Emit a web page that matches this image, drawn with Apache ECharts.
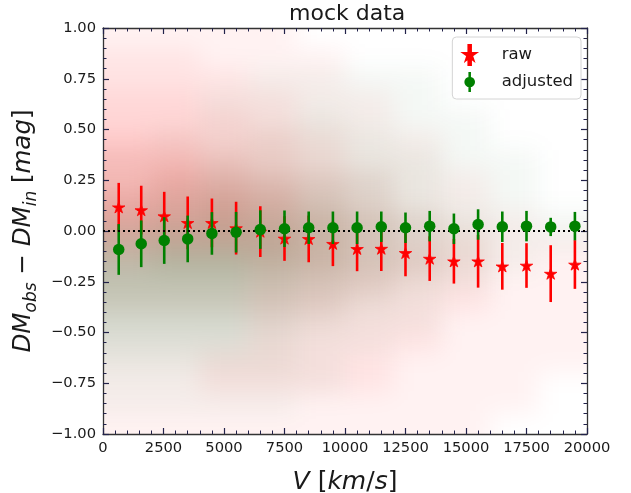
<!DOCTYPE html>
<html>
<head>
<meta charset="utf-8">
<script src="https://cdn.jsdelivr.net/npm/echarts@6/dist/echarts.min.js"></script>
<style>
html,body{margin:0;padding:0;background:#fff;}
#wrap{position:relative;width:631px;height:493px;overflow:hidden;}
#cloudClip{position:absolute;left:103px;top:28px;width:484px;height:406px;overflow:hidden;}
#cloud{position:absolute;left:-103px;top:-28px;width:631px;height:493px;filter:blur(12px);}
#main{position:absolute;left:0;top:0;width:631px;height:493px;}
</style>
</head>
<body>
<div id="wrap">
  <div id="cloudClip"><div id="cloud"></div></div>
  <div id="main"></div>
</div>
<script>
// ---- binned statistics ----
const velocity = [650,1580,2530,3500,4500,5500,6500,7500,8500,9500,10500,11500,12500,13500,14500,15500,16500,17500,18500,19500];
const rawMean  = [0.117,0.103,0.073,0.040,0.040,0.014,-0.003,-0.037,-0.039,-0.063,-0.088,-0.087,-0.108,-0.136,-0.149,-0.149,-0.174,-0.170,-0.210,-0.165];
const rawErr   = [0.12,0.12,0.12,0.13,0.12,0.13,0.125,0.11,0.115,0.11,0.11,0.11,0.115,0.11,0.11,0.13,0.115,0.11,0.14,0.12];
const adjMean  = [-0.091,-0.063,-0.047,-0.039,-0.012,-0.006,0.007,0.011,0.016,0.016,0.016,0.021,0.016,0.024,0.011,0.032,0.021,0.024,0.020,0.024];
const adjErr   = [0.125,0.115,0.115,0.115,0.105,0.10,0.095,0.09,0.08,0.08,0.08,0.075,0.075,0.075,0.075,0.075,0.075,0.075,0.045,0.07];

// ---- background point-cloud density (0-9), read by eye; rows top->bottom ----
const cloudX = [1000,3000,5000,7000,9000,11000,13000,15000,17000,19000];
const cloudY = [0.95,0.85,0.75,0.65,0.55,0.45,0.35,0.25,0.15,0.05,-0.05,-0.15,-0.25,-0.35,-0.45,-0.55,-0.65,-0.75,-0.85,-0.95];
const rawDensity = [
 "1111000000","2211100000","2221100000","3322110000","3332110000",
 "4433211000","5543211000","5654321100","6665321100","6665432110",
 "5555432211","3334433211","2223332211","2223322211","1112222111",
 "1112222111","1122221111","1122221110","1111111110","1111111100"];
const adjDensity = [
 "0000000000","0000000000","0001111000","0011111000","0011211100",
 "0112221100","1122222110","1233332110","2344432110","3455543211",
 "5666543211","6776543210","6665432100","5554321000","4443211000",
 "3332110000","2222100000","1111100000","1111000000","0000000000"];

const xTicks = {min:0, max:20000, interval:2500};
const yTicks = {min:-1, max:1, interval:0.25};

function cloudData(grid){
  const out=[];
  grid.forEach((row,i)=>{ for(let j=0;j<row.length;j++){ const d=+row[j]; if(d>0) out.push([cloudX[j],cloudY[i],d,i,j]); } });
  return out;
}
function cloudRender(rgb, k){
  return function(params, api){
    const x=api.value(0), y=api.value(1), d=api.value(2), i=api.value(3), j=api.value(4);
    const p=api.coord([x,y]); const s=api.size([2000,0.1]);
    let x0=p[0]-s[0]/2, x1=p[0]+s[0]/2, y0=p[1]-s[1]/2, y1=p[1]+s[1]/2;
    if(j===0) x0-=30; if(j===cloudX.length-1) x1+=30;
    if(i===0) y0-=30; if(i===cloudY.length-1) y1+=30;
    return {type:'rect', shape:{x:x0,y:y0,width:x1-x0,height:y1-y0},
      style:{fill:'rgba('+rgb+','+(d*k).toFixed(3)+')'}};
  };
}
const gridPos = {left:103, right:44, top:28, bottom:59, outerBoundsMode:'none', containLabel:false};

const cloud = echarts.init(document.getElementById('cloud'), null, {renderer:'canvas'});
cloud.setOption({
  animation:false,
  grid: gridPos,
  xAxis:{type:'value', min:xTicks.min, max:xTicks.max, show:false},
  yAxis:{type:'value', min:yTicks.min, max:yTicks.max, show:false},
  series:[
    {type:'custom', data:cloudData(rawDensity), renderItem:cloudRender('255,0,0',0.052), clip:false},
    {type:'custom', data:cloudData(adjDensity), renderItem:cloudRender('30,105,45',0.048), clip:false}
  ]
});

const FONT='DejaVu Sans';
const tickCol='#22224a';
function axisCommon(showLabel){
  return {
    axisLine:{show:true, onZero:false, lineStyle:{color:'#333', width:1.3}},
    axisTick:{show:true, inside:true, length:6, lineStyle:{color:tickCol, width:1.2}},
    minorTick:{show:true, splitNumber:5, length:3.5, lineStyle:{color:tickCol, width:1}},
    splitLine:{show:false}, minorSplitLine:{show:false},
    axisLabel:{show:showLabel, fontFamily:FONT, fontSize:14.7, color:'#1a1a1a', margin:7}
  };
}
const starPath = 'M0,-100 L22.45,-30.9 L95.1,-30.9 L36.3,11.8 L58.8,80.9 L0,38.2 L-58.8,80.9 L-36.3,11.8 L-95.1,-30.9 L-22.45,-30.9 Z';
const rawIcon = 'path://' + starPath + ' M-19,-150 L19,-150 L19,150 L-19,150 Z';
const adjIcon = 'path://M-80,0 A80,80 0 1,1 80,0 A80,80 0 1,1 -80,0 Z M-19,-150 L19,-150 L19,150 L-19,150 Z';

function errRender(color){
  return function(params, api){
    const x=api.value(0), m=api.value(1), e=api.value(2);
    const a=api.coord([x,m-e]), b=api.coord([x,m+e]);
    return {type:'line', shape:{x1:a[0],y1:a[1],x2:b[0],y2:b[1]}, style:{stroke:color, lineWidth:2.6}};
  };
}
const rawData = velocity.map((v,i)=>[v,rawMean[i],rawErr[i]]);
const adjData = velocity.map((v,i)=>[v,adjMean[i],adjErr[i]]);

const chart = echarts.init(document.getElementById('main'), null, {renderer:'canvas'});
chart.setOption({
  animation:false,
  backgroundColor:'transparent',
  title:{text:'mock data', left:284, top:-2, textStyle:{fontFamily:FONT, fontSize:22, fontWeight:'normal', color:'#1a1a1a'}},
  grid: gridPos,
  legend:{
    orient:'vertical', right:50, top:37,
    padding:[7,8,7,10], itemGap:6, itemWidth:26, itemHeight:20,
    backgroundColor:'rgba(255,255,255,0.85)', borderColor:'#d4d4d4', borderWidth:1, borderRadius:4,
    textStyle:{fontFamily:FONT, fontSize:16.5, color:'#1a1a1a', padding:[0,0,0,14]},
    data:[{name:'raw', icon:rawIcon},{name:'adjusted', icon:adjIcon}]
  },
  xAxis:[
    Object.assign({type:'value', position:'bottom', min:xTicks.min, max:xTicks.max, interval:xTicks.interval,
      name:'{i|V}{r|\u00a0[}{i|km}{r|/}{i|s}{r|]}', nameLocation:'middle', nameGap:36,
      nameTextStyle:{rich:{
        i:{fontFamily:FONT, fontSize:25, fontStyle:'italic', color:'#1a1a1a'},
        r:{fontFamily:FONT, fontSize:25, color:'#1a1a1a'}}}}, axisCommon(true),
      {axisLabel:{show:true, fontFamily:FONT, fontSize:14.7, color:'#1a1a1a', margin:7, formatter:v=>String(v)}}),
    Object.assign({type:'value', position:'top', min:xTicks.min, max:xTicks.max, interval:xTicks.interval}, axisCommon(false))
  ],
  yAxis:[
    Object.assign({type:'value', position:'left', min:yTicks.min, max:yTicks.max, interval:yTicks.interval,
      name:'{i|DM}{s|obs}{r|\u00a0\u2212\u00a0}{i|DM}{s|in}{r|\u00a0[}{i|mag}{r|]}', nameLocation:'middle', nameGap:53, nameRotate:90,
      nameTextStyle:{rich:{
        i:{fontFamily:FONT, fontSize:24.5, fontStyle:'italic', color:'#1a1a1a', lineHeight:32, verticalAlign:'middle'},
        r:{fontFamily:FONT, fontSize:24.5, color:'#1a1a1a', lineHeight:32, verticalAlign:'middle'},
        s:{fontFamily:FONT, fontSize:17, fontStyle:'italic', color:'#1a1a1a', lineHeight:20, verticalAlign:'bottom'}}}},
      axisCommon(true),
      {axisLabel:{show:true, fontFamily:FONT, fontSize:14.7, color:'#1a1a1a', margin:7,
        formatter:v=>(v<0?'\u2212':'')+Math.abs(v).toFixed(2)}}),
    Object.assign({type:'value', position:'right', min:yTicks.min, max:yTicks.max, interval:yTicks.interval}, axisCommon(false))
  ],
  series:[
    {name:'zero', type:'line', data:[], z:1,
      markLine:{silent:true, symbol:['none','none'], label:{show:false},
        lineStyle:{type:[2,3], width:2, color:'#000'}, data:[{yAxis:0}]}},
    {name:'rawErr', type:'custom', data:rawData, renderItem:errRender('#ff0000'), z:2},
    {name:'raw', type:'scatter', data:rawData, symbol:'path://'+starPath, symbolSize:[12.5,11.9], symbolKeepAspect:true,
      itemStyle:{color:'#ff0000', opacity:1, borderColor:'#ff0000', borderWidth:0.8}, z:3},
    {name:'adjErr', type:'custom', data:adjData, renderItem:errRender('#008000'), z:4},
    {name:'adjusted', type:'scatter', data:adjData, symbol:'circle', symbolSize:11.5,
      itemStyle:{color:'#008000', opacity:1}, z:5}
  ]
});
</script>
</body>
</html>
